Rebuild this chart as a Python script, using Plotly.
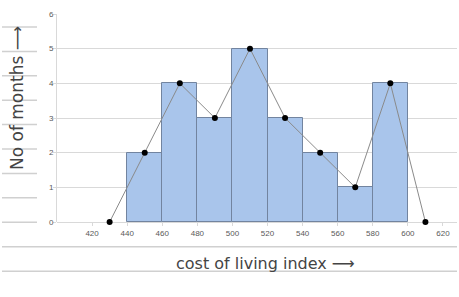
import plotly.graph_objects as go

# Data
class_lower = [440, 460, 480, 500, 520, 540, 560, 580]
class_width = 20
frequencies = [2, 4, 3, 5, 3, 2, 1, 4]
poly_x = [430, 450, 470, 490, 510, 530, 550, 570, 590, 610]
poly_y = [0, 2, 4, 3, 5, 3, 2, 1, 4, 0]
x_ticks = [420, 440, 460, 480, 500, 520, 540, 560, 580, 600, 620]
y_ticks = [0, 1, 2, 3, 4, 5, 6]
x_title = "cost of living index ⟶"
y_title = "No of months ⟶"

W, H = 459, 297
L, R, T, B = 57, 2, 14, 75
pw, ph = W - L - R, H - T - B

def px_x(p):
    return (p - L) / pw

def px_y(p):
    return (H - B - p) / ph

mids = [c + class_width / 2 for c in class_lower]

fig = go.Figure()
fig.add_trace(go.Bar(
    x=mids, y=frequencies, width=[class_width] * len(mids),
    marker=dict(color="#a9c5eb", line=dict(color="#72849f", width=1)),
    hoverinfo="skip",
))
fig.add_trace(go.Scatter(
    x=poly_x, y=poly_y, mode="lines+markers",
    line=dict(color="#8a8a8a", width=1),
    marker=dict(color="black", size=6),
    cliponaxis=False,
))

shapes = []
# notebook lines on the left
for py in [27, 51.4, 75.8, 100.2, 124.6, 149, 173.4, 197.8, 222.2]:
    shapes.append(dict(type="line", xref="paper", yref="paper",
                       x0=px_x(2), x1=px_x(37), y0=px_y(py), y1=px_y(py),
                       line=dict(color="#d0d0d0", width=1.5), layer="below"))
for py in [246.8, 271.2]:
    shapes.append(dict(type="line", xref="paper", yref="paper",
                       x0=px_x(2), x1=px_x(457), y0=px_y(py), y1=px_y(py),
                       line=dict(color="#d0d0d0", width=1.5), layer="below"))

annotations = [
    dict(text=y_title, xref="paper", yref="paper", x=px_x(17), y=px_y(98),
         showarrow=False, textangle=-90,
         font=dict(family="DejaVu Sans", size=17, color="#444"),
         xanchor="center", yanchor="middle"),
    dict(text=x_title, xref="paper", yref="paper", x=px_x(265), y=px_y(263),
         showarrow=False,
         font=dict(family="DejaVu Sans", size=16, color="#444"),
         xanchor="center", yanchor="middle"),
]

fig.update_layout(
    width=W, height=H,
    margin=dict(l=L, r=R, t=T, b=B),
    paper_bgcolor="white", plot_bgcolor="white",
    showlegend=False, bargap=0,
    shapes=shapes, annotations=annotations,
    font=dict(family="Liberation Sans", size=8, color="#595959"),
    xaxis=dict(range=[400, 628], tickvals=x_ticks, showgrid=False,
               zeroline=False, showline=False, ticks="outside", ticklen=3,
               tickcolor="#d9d9d9", tickfont=dict(size=8, color="#595959")),
    yaxis=dict(range=[0, 6], tickvals=y_ticks, showgrid=True,
               gridcolor="#d9d9d9", gridwidth=1, zeroline=True,
               zerolinecolor="#d9d9d9", zerolinewidth=1,
               showline=True, linecolor="#d9d9d9", linewidth=1,
               ticks="outside", ticklen=3, tickcolor="#d9d9d9",
               ticklabelstandoff=-2,
               tickfont=dict(size=8, color="#595959")),
)

fig.write_html("out.html")
